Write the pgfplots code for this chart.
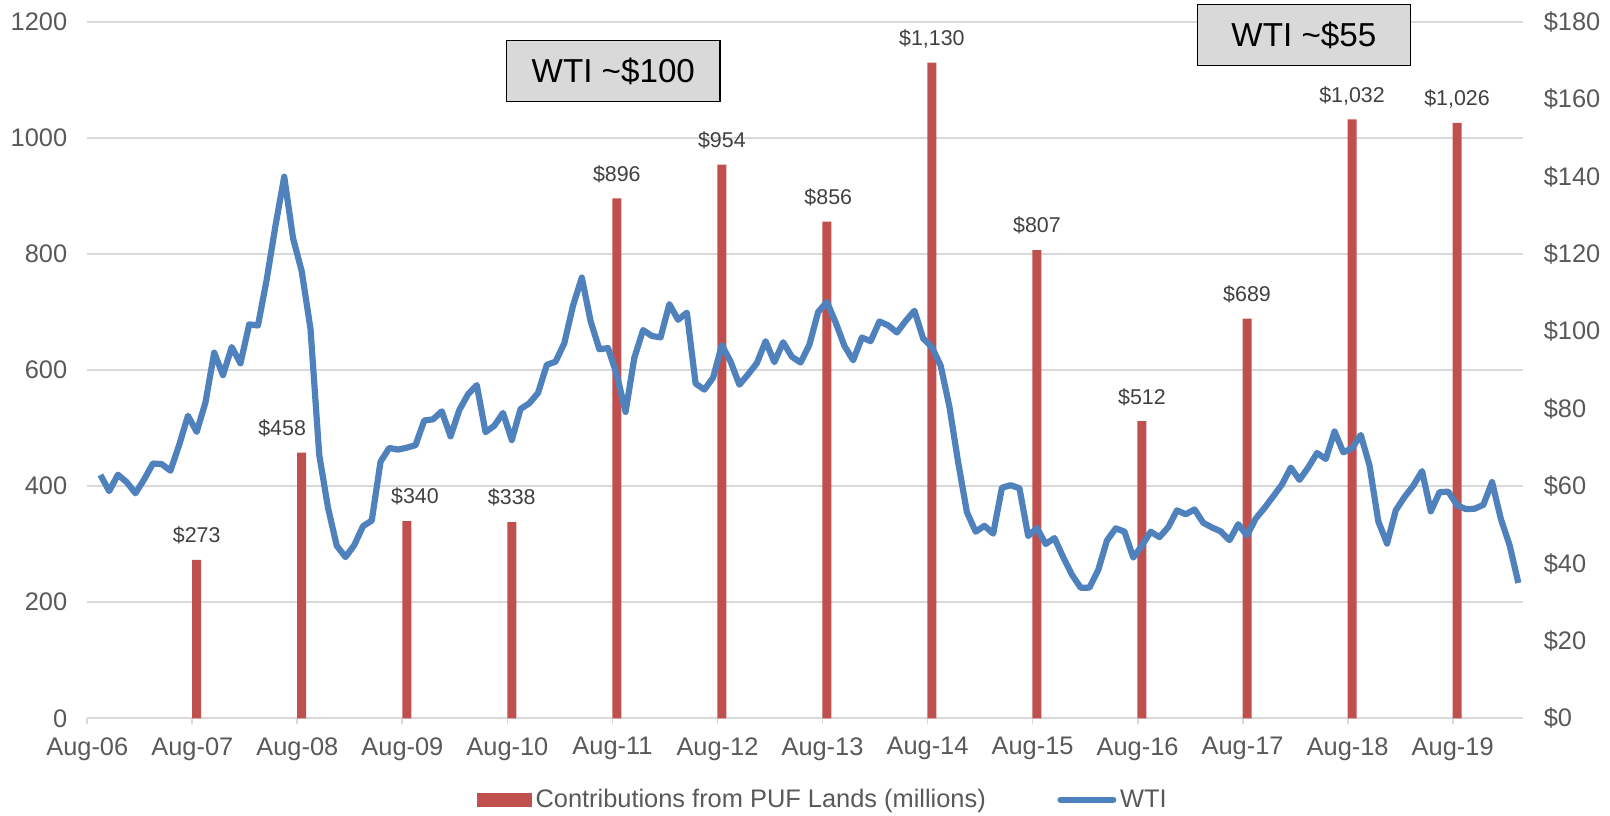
\documentclass[border=0pt]{standalone}
\usepackage{fontspec}
\setmainfont{Liberation Sans}
\usepackage{pgfplots}
\usepackage{pgfplotstable}
\pgfplotsset{compat=1.18}
\definecolor{barred}{HTML}{C0504D}
\definecolor{wtiblue}{HTML}{4F81BD}
\definecolor{gridgray}{HTML}{D9D9D9}
\definecolor{ticklab}{HTML}{595959}
\definecolor{datalab}{HTML}{404040}
\definecolor{boxfill}{HTML}{D9D9D9}

% PUF contributions (millions), x = months since Aug-06 (mid-month); dx = label nudge (pt)
\pgfplotstableread{
x y dx
12.5 273 0
24.5 458 -9.8
36.5 340 4.1
48.5 338 0
60.5 896 0
72.5 954 0
84.5 856 0.7
96.5 1130 0
108.5 807 0
120.5 512 0
132.5 689 0
144.5 1032 0
156.5 1026 0
}\contrib

% WTI month-end price ($/bbl)
\pgfplotstableread{
x y
1.5 62.91
2.5 58.73
3.5 62.97
4.5 61.05
5.5 58.17
6.5 61.78
7.5 65.87
8.5 65.71
9.5 64.01
10.5 70.68
11.5 78.21
12.5 74.04
13.5 81.66
14.5 94.53
15.5 88.71
16.5 95.98
17.5 91.75
18.5 101.84
19.5 101.54
20.5 113.46
21.5 127.35
22.5 140.00
23.5 124.17
24.5 115.55
25.5 100.70
26.5 68.10
27.5 54.43
28.5 44.60
29.5 41.68
30.5 44.76
31.5 49.66
32.5 51.12
33.5 66.31
34.5 69.89
35.5 69.45
36.5 69.96
37.5 70.61
38.5 77.00
39.5 77.28
40.5 79.36
41.5 72.89
42.5 79.66
43.5 83.76
44.5 86.15
45.5 73.97
46.5 75.63
47.5 78.95
48.5 71.92
49.5 79.97
50.5 81.43
51.5 84.11
52.5 91.38
53.5 92.19
54.5 96.97
55.5 106.72
56.5 113.93
57.5 102.70
58.5 95.42
59.5 95.70
60.5 88.81
61.5 79.20
62.5 93.19
63.5 100.36
64.5 98.83
65.5 98.48
66.5 107.07
67.5 103.02
68.5 104.87
69.5 86.53
70.5 84.96
71.5 88.06
72.5 96.47
73.5 92.19
74.5 86.24
75.5 88.91
76.5 91.82
77.5 97.49
78.5 92.05
79.5 97.23
80.5 93.46
81.5 91.97
82.5 96.56
83.5 105.03
84.5 107.65
85.5 102.33
86.5 96.29
87.5 92.55
88.5 98.42
89.5 97.49
90.5 102.59
91.5 101.58
92.5 99.74
93.5 102.71
94.5 105.37
95.5 98.17
96.5 95.96
97.5 91.17
98.5 80.54
99.5 66.15
100.5 53.27
101.5 48.24
102.5 49.76
103.5 47.72
104.5 59.62
105.5 60.25
106.5 59.48
107.5 47.11
108.5 49.20
109.5 45.06
110.5 46.59
111.5 41.65
112.5 37.13
113.5 33.74
114.5 33.78
115.5 38.32
116.5 45.98
117.5 49.10
118.5 48.27
119.5 41.54
120.5 44.68
121.5 48.24
122.5 46.83
123.5 49.41
124.5 53.75
125.5 52.75
126.5 54.00
127.5 50.54
128.5 49.33
129.5 48.32
130.5 46.04
131.5 50.17
132.5 47.26
133.5 51.64
134.5 54.38
135.5 57.40
136.5 60.46
137.5 64.82
138.5 61.64
139.5 64.87
140.5 68.57
141.5 67.04
142.5 74.15
143.5 68.76
144.5 69.80
145.5 73.25
146.5 65.31
147.5 50.93
148.5 45.15
149.5 53.79
150.5 57.22
151.5 60.14
152.5 63.91
153.5 53.50
154.5 58.47
155.5 58.58
156.5 55.10
157.5 54.07
158.5 54.18
159.5 55.17
160.5 61.06
161.5 51.56
162.5 44.76
163.5 35.00
}\wti

\begin{document}
\begin{tikzpicture}
\useasboundingbox (-43.65pt,-48.35pt) rectangle (761.35pt,359.15pt);
\begin{axis}[
  at={(0,0)}, anchor=south west,
  width=717.7pt, height=348.15pt, scale only axis,
  xmin=0, xmax=164, ymin=0, ymax=1200,
  clip=false,
  axis x line*=bottom, axis y line*=left,
  y axis line style={draw=none},
  x axis line style={gridgray, line width=0.9pt, -},
  xtick={0,12,...,156},
  xticklabels={Aug-06,Aug-07,Aug-08,Aug-09,Aug-10,Aug-11,Aug-12,Aug-13,Aug-14,Aug-15,Aug-16,Aug-17,Aug-18,Aug-19},
  tick align=outside,
  major tick length=3pt,
  xtick style={gridgray, line width=0.9pt},
  ytick={0,200,...,1200},
  ytick style={draw=none},
  ymajorgrids,
  grid style={gridgray, line width=0.9pt},
  tick label style={font=\fontsize{12.7}{15}\selectfont, text=ticklab},
  /pgf/number format/assume math mode=true,
  /pgf/number format/1000 sep={},
  yticklabel style={xshift=-3.5pt},
  xticklabel style={yshift=-3pt},
  ybar, bar width=4.5pt,
  visualization depends on={\thisrow{dx} \as \labdx},
  nodes near coords={\$\pgfmathprintnumber[1000 sep={,}]{\pgfplotspointmeta}},
  every node near coord/.append style={font=\fontsize{10.7}{12}\selectfont, text=datalab, anchor=base, yshift=8.6pt, xshift=\labdx pt},
]
\addplot[fill=barred, draw=none] table[x=x, y=y] {\contrib};
\end{axis}
\begin{axis}[
  at={(0,0)}, anchor=south west,
  width=717.7pt, height=348.15pt, scale only axis,
  xmin=0, xmax=164, ymin=0, ymax=180,
  clip=false,
  axis x line=none, axis y line*=right,
  y axis line style={draw=none},
  ytick style={draw=none},
  ytick={0,20,...,180},
  yticklabel={\$\pgfmathprintnumber{\tick}},
  /pgf/number format/assume math mode=true,
  tick label style={font=\fontsize{12.7}{15}\selectfont, text=ticklab},
  yticklabel style={xshift=7pt},
  legend columns=2,
  legend style={draw=none, fill=none, at={(0.513,-0.117)}, anchor=center,
    font=\fontsize{12.7}{15}\selectfont, text=ticklab,
    nodes={inner sep=1.8pt},
    /tikz/every even column/.append style={column sep=34pt}},
]
\addlegendimage{legend image code/.code={\fill[barred] (0pt,-3.3pt) rectangle (27pt,3.3pt);}}
\addlegendentry{Contributions from PUF Lands (millions)}
\addplot[wtiblue, line width=3.1pt, line join=round,
  legend image code/.code={\draw[wtiblue, line width=3pt, line cap=round] (0pt,0pt) -- (26.5pt,0pt);}]
  table[x=x, y=y] {\wti};
\addlegendentry{WTI}
\node[draw=black, line width=0.7pt, fill=boxfill, minimum width=106.7pt, minimum height=30.5pt, inner sep=0pt, font=\fontsize{16.6}{20}\selectfont, text=black] at (axis cs:60.1,167.3) {WTI \textasciitilde\$100};
\node[draw=black, line width=0.7pt, fill=boxfill, minimum width=106.4pt, minimum height=30.4pt, inner sep=0pt, font=\fontsize{16.6}{20}\selectfont, text=black] at (axis cs:139.0,176.6) {WTI \textasciitilde\$55};
\end{axis}
\end{tikzpicture}
\end{document}
